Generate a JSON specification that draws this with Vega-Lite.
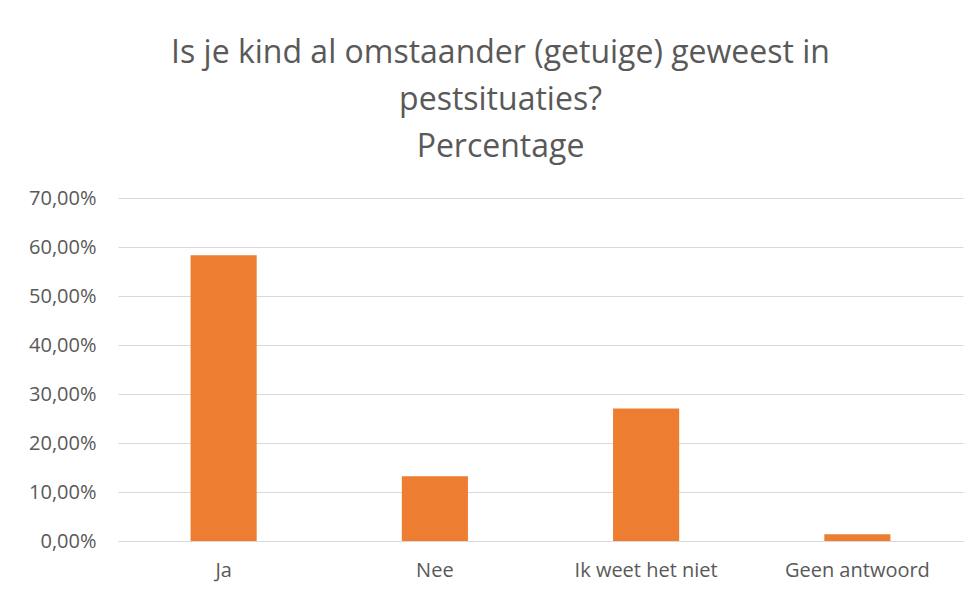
{
  "$schema": "https://vega.github.io/schema/vega-lite/v6.json",
  "width": 845,
  "height": 343,
  "autosize": "none",
  "padding": {"left": 118, "top": 198, "right": 16, "bottom": 58},
  "background": "white",
  "title": {
    "text": ["Is je kind al omstaander (getuige) geweest in", "pestsituaties?", "Percentage"],
    "fontSize": 32,
    "font": "Open Sans",
    "fontWeight": "normal",
    "color": "#595959",
    "lineHeight": 47,
    "anchor": "middle",
    "dx": -40,
    "offset": 24
  },
  "data": {
    "values": [
      {"antwoord": "Ja", "percentage": 0.5833},
      {"antwoord": "Nee", "percentage": 0.132},
      {"antwoord": "Ik weet het niet", "percentage": 0.2703},
      {"antwoord": "Geen antwoord", "percentage": 0.014}
    ]
  },
  "mark": {"type": "bar", "color": "#ED7D31"},
  "encoding": {
    "x": {
      "field": "antwoord",
      "type": "nominal",
      "sort": null,
      "scale": {"paddingInner": 0.687, "paddingOuter": 0.3435},
      "axis": {
        "title": null,
        "labelAngle": 0,
        "labelFont": "Open Sans",
        "labelFontSize": 20,
        "labelColor": "#595959",
        "labelPadding": 19,
        "ticks": false,
        "domainColor": "#D9D9D9",
        "domainWidth": 1
      }
    },
    "y": {
      "field": "percentage",
      "type": "quantitative",
      "scale": {"domain": [0, 0.7]},
      "axis": {
        "title": null,
        "values": [0, 0.1, 0.2, 0.3, 0.4, 0.5, 0.6, 0.7],
        "labelExpr": "replace(format(datum.value, '.2%'), '.', ',')",
        "labelFont": "Open Sans",
        "labelFontSize": 20,
        "labelColor": "#595959",
        "labelPadding": 22,
        "ticks": false,
        "domain": false,
        "gridColor": "#D9D9D9",
        "gridWidth": 1
      }
    }
  },
  "config": {"view": {"stroke": null}}
}
